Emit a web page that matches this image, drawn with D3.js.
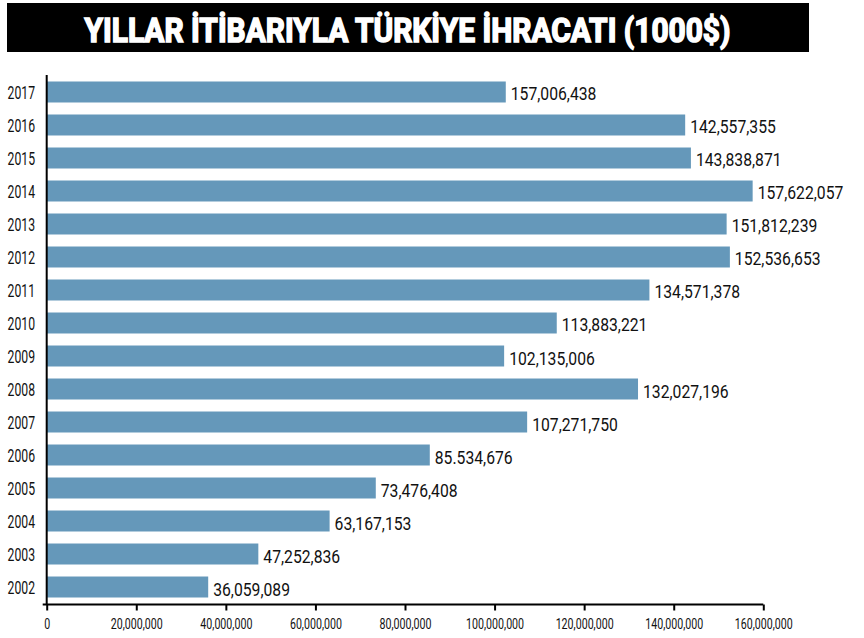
<!DOCTYPE html>
<html>
<head>
<meta charset="utf-8">
<script src="https://cdn.jsdelivr.net/npm/d3@7"></script>
<style>
  body { margin: 0; background: #fff; }
  text { font-family: Roboto, "DejaVu Sans Condensed", sans-serif; }
</style>
</head>
<body>
<div id="chart"></div>
<script>
// data (top to bottom)
const years = ["2017", "2016", "2015", "2014", "2013", "2012", "2011", "2010",
               "2009", "2008", "2007", "2006", "2005", "2004", "2003", "2002"];
// bar lengths (the 2017 bar is drawn shorter than its label)
const values = [102500000, 142557355, 143838871, 157622057, 151812239, 152536653, 134571378, 113883221,
                102135006, 132027196, 107271750, 85534676, 73476408, 63167153, 47252836, 36059089];
// labels as printed
const labels = ["157,006,438", "142,557,355", "143,838,871", "157,622,057", "151,812,239", "152,536,653",
                "134,571,378", "113,883,221", "102,135,006", "132,027,196", "107,271,750", "85.534,676",
                "73,476,408", "63,167,153", "47,252,836", "36,059,089"];
const xTicks = [0, 20000000, 40000000, 60000000, 80000000, 100000000, 120000000, 140000000, 160000000];
const title = "YILLAR İTİBARIYLA TÜRKİYE İHRACATI (1000$)";

const W = 864, H = 638;
const svg = d3.select("#chart").append("svg")
  .attr("width", W)
  .attr("height", H);

// title box
svg.append("rect")
  .attr("x", 7).attr("y", 3)
  .attr("width", 802).attr("height", 49)
  .attr("fill", "#000");

svg.append("text")
  .attr("x", 407.5).attr("y", 42)
  .attr("text-anchor", "middle")
  .attr("fill", "#fff")
  .attr("stroke", "#fff")
  .attr("stroke-width", 1.6)
  .attr("font-family", "'DejaVu Sans Condensed', sans-serif")
  .attr("font-size", 34)
  .attr("font-weight", "bold")
  .attr("textLength", 646)
  .attr("lengthAdjust", "spacingAndGlyphs")
  .text(title);

const x = d3.scaleLinear()
  .domain([0, 160000000])
  .range([46.7, 763.3]);

const y = d3.scaleBand()
  .domain(years)
  .range([75, 604])
  .paddingInner(0.364)
  .paddingOuter(0.197);

const mid = d => y(d) + y.bandwidth() / 2;

// bars
svg.selectAll("rect.bar")
  .data(values)
  .enter()
  .append("rect")
  .attr("class", "bar")
  .attr("x", x(0))
  .attr("y", (_, i) => y(years[i]))
  .attr("width", d => x(d) - x(0))
  .attr("height", y.bandwidth())
  .attr("fill", "#6598ba");

// value labels (condensed by squeezing horizontally)
svg.selectAll("text.val")
  .data(values)
  .enter()
  .append("text")
  .attr("class", "val")
  .attr("transform", (d, i) => `translate(${x(d) + 5},${mid(years[i]) + 8.5}) scale(0.85,1)`)
  .attr("font-size", 18.5)
  .attr("fill", "#111")
  .text((_, i) => labels[i]);

// year labels
svg.selectAll("text.year")
  .data(years)
  .enter()
  .append("text")
  .attr("class", "year")
  .attr("transform", d => `translate(35,${mid(d) + 7}) scale(0.66,1)`)
  .attr("text-anchor", "end")
  .attr("font-size", 18.5)
  .attr("fill", "#111")
  .text(d => d);

// y axis line
svg.append("line")
  .attr("x1", x(0)).attr("x2", x(0))
  .attr("y1", 75).attr("y2", 605)
  .attr("stroke", "#000")
  .attr("stroke-width", 2);

// x axis
const xAxis = svg.append("g")
  .attr("transform", "translate(0,604.5)")
  .call(d3.axisBottom(x)
    .tickValues(xTicks)
    .tickSize(6)
    .tickSizeOuter(0)
    .tickFormat(d3.format(",")));

xAxis.select(".domain").attr("stroke-width", 2).attr("d", `M${x(0) - 4},0H${x(160000000)}`);
xAxis.selectAll(".tick line").attr("stroke-width", 2);
xAxis.selectAll(".tick text")
  .attr("font-family", "Roboto, sans-serif")
  .attr("font-size", 15)
  .attr("fill", "#111")
  .attr("y", 0)
  .attr("dy", 0)
  .attr("transform", "translate(0,24) scale(0.71,1)");
</script>
</body>
</html>
